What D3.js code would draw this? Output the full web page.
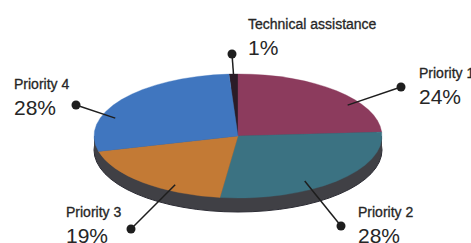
<!DOCTYPE html>
<html lang="en">
<head>
<meta charset="utf-8">
<script src="https://d3js.org/d3.v7.min.js"></script>
<style>
  body { margin: 0; background: #fff; }
  text { font-family: "Liberation Sans", Arial, sans-serif; fill: #262626; }
</style>
</head>
<body>
<script>
// slice data, clockwise from just left of 12 o'clock
var categories = ["Technical assistance", "Priority 1", "Priority 2", "Priority 3", "Priority 4"];
var values = [1, 24, 28, 19, 28];
var colors = ["#2b1c27", "#8c3b5d", "#3b7282", "#c37a35", "#4076bf"];

// label layout: leader start (angle deg, radius fraction), dot and text position
var labelLayout = [
  {ang: -1.8, k: 1.0,  dot: [232, 54],  tx: 248, ty: 29},
  {ang: 56.8, k: 0.91, dot: [401, 87],  tx: 419, ty: 78},
  {ang: 147.4, k: 0.86, dot: [341, 226], tx: 358, ty: 217},
  {ang: 209, k: 0.90, dot: [131, 229], tx: 66,  ty: 217},
  {ang: 288.7, k: 0.90, dot: [76, 105],  tx: 14,  ty: 89}
];

var w = 471, h = 243;
var cx = 238, cy = 136, rx = 144, ry = 62, depth = 14;

var svg = d3.select("body").append("svg")
  .attr("width", w)
  .attr("height", h);

var rad = Math.PI / 180;
var pie = d3.pie()
  .sort(null)
  .startAngle(-3.6 * rad)
  .endAngle(356.4 * rad);

var arcs = pie(values);

// side of the disc
var side = svg.append("g");
side.append("ellipse")
  .attr("cx", cx).attr("cy", cy + depth)
  .attr("rx", rx).attr("ry", ry)
  .style("fill", "#404045")
  .style("stroke", "#2c2c34")
  .style("stroke-width", 1);
side.append("rect")
  .attr("x", cx - rx).attr("y", cy)
  .attr("width", rx * 2).attr("height", depth)
  .style("fill", "#404045");

// top face: circle arcs squashed into an ellipse
var arc = d3.arc().innerRadius(0).outerRadius(rx);
var face = svg.append("g")
  .attr("transform", "translate(" + cx + "," + cy + ") scale(1," + (ry / rx) + ")");
face.selectAll("path")
  .data(arcs)
  .enter()
  .append("path")
  .attr("d", arc)
  .style("fill", function(d, i) { return colors[i]; })
  .style("stroke", function(d, i) { return colors[i]; })
  .style("stroke-width", 0.5);

function project(angDeg, k) {
  var a = angDeg * rad;
  return [cx + rx * k * Math.sin(a), cy - ry * k * Math.cos(a)];
}

var fmt = function(v) { return v + "%"; };

var labels = svg.selectAll("g.label")
  .data(labelLayout)
  .enter()
  .append("g")
  .attr("class", "label");

labels.append("line")
  .attr("x1", function(d) { return project(d.ang, d.k)[0]; })
  .attr("y1", function(d) { return project(d.ang, d.k)[1]; })
  .attr("x2", function(d) { return d.dot[0]; })
  .attr("y2", function(d) { return d.dot[1]; })
  .style("stroke", "#1e1e1e")
  .style("stroke-width", 1.5);

labels.append("circle")
  .attr("cx", function(d) { return d.dot[0]; })
  .attr("cy", function(d) { return d.dot[1]; })
  .attr("r", 4.5)
  .style("fill", "#1e1e1e");

labels.append("text")
  .attr("x", function(d) { return d.tx; })
  .attr("y", function(d) { return d.ty; })
  .style("font-size", "14px")
  .style("stroke", "#262626")
  .style("stroke-width", 0.3)
  .text(function(d, i) { return categories[i]; });

labels.append("text")
  .attr("x", function(d) { return d.tx; })
  .attr("y", function(d) { return d.ty + 26; })
  .style("font-size", "21px")
  .text(function(d, i) { return fmt(values[i]); });
</script>
</body>
</html>
